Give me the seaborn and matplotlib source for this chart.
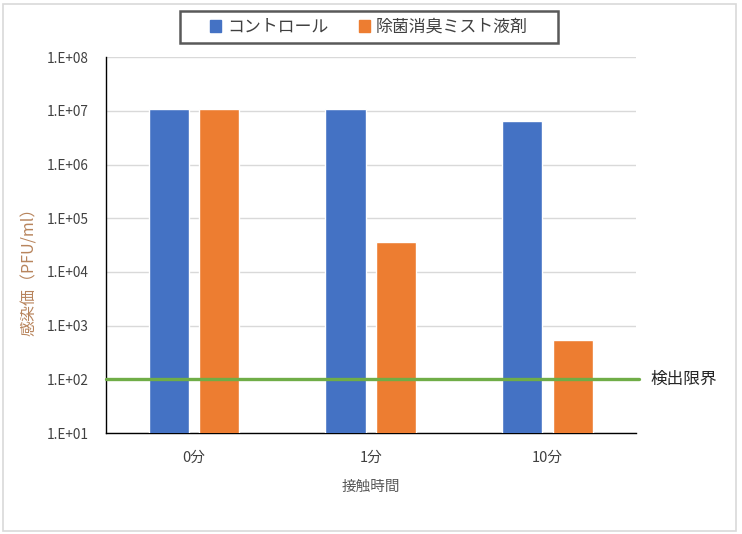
import matplotlib
matplotlib.use("Agg")
import matplotlib.pyplot as plt
import seaborn as sns
import pandas as pd
from matplotlib.patches import Rectangle
from matplotlib.ticker import FixedLocator, FixedFormatter, NullLocator

categories = ["0分", "1分", "10分"]
series_names = ["コントロール", "除菌消臭ミスト液剤"]
control_values = [1.07e7, 1.07e7, 6.4e6]
mist_values = [1.07e7, 3.6e4, 5.4e2]
detection_limit = 100
limit_label = "検出限界"
ytick_values = [1e1, 1e2, 1e3, 1e4, 1e5, 1e6, 1e7, 1e8]
ytick_labels = ["1.E+01", "1.E+02", "1.E+03", "1.E+04", "1.E+05", "1.E+06", "1.E+07", "1.E+08"]

sns.set_theme(style="white")
plt.rcParams["font.family"] = ["Noto Sans CJK JP", "DejaVu Sans"]

df = pd.DataFrame({
    "cat": categories * 2,
    "series": [series_names[0]] * 3 + [series_names[1]] * 3,
    "value": control_values + mist_values,
})

fig = plt.figure(figsize=(7.42, 5.34), dpi=100)
ax = fig.add_axes([0.1425, 0.189, 0.7145, 0.704])

palette = {series_names[0]: "#4472C4", series_names[1]: "#ED7D31"}
ax.set_yscale("log")
sns.barplot(data=df, x="cat", y="value", hue="series", hue_order=series_names,
            order=categories, palette=palette, width=0.57, gap=0.2, ax=ax,
            legend=False, saturation=1, errorbar=None, zorder=3)

ax.set_ylim(1e1, 1e8)
ax.set_xlim(-0.5, 2.5)
ax.yaxis.set_major_locator(FixedLocator(ytick_values))
ax.yaxis.set_major_formatter(FixedFormatter(ytick_labels))
ax.yaxis.set_minor_locator(NullLocator())
ax.grid(axis="y", color="#D9D9D9", linewidth=1, zorder=0)
ax.set_axisbelow(True)
for s in ["top", "right"]:
    ax.spines[s].set_visible(False)
for s in ["left", "bottom"]:
    ax.spines[s].set_color("#000000")
    ax.spines[s].set_linewidth(1)
ax.tick_params(axis="both", length=0, colors="#404040", labelsize=9.8)
ax.tick_params(axis="x", pad=13, labelsize=10.5)
ax.tick_params(axis="y", pad=12)

ax.plot([-0.5, 2.52], [detection_limit, detection_limit], color="#70AD47",
        linewidth=2.4, clip_on=False, zorder=5)
ax.text(2.585, detection_limit, limit_label, va="center", ha="left",
        fontsize=12, color="#262626")

ax.set_xlabel("接触時間", color="#595959", fontsize=10.5, labelpad=11)
ax.set_ylabel("感染価（PFU/ml）", color="#B8845C", fontsize=11.5)
ax.yaxis.set_label_coords(-0.127, 0.44)

handles = [Rectangle((0, 0), 1, 1, color=palette[n]) for n in series_names]
leg = fig.legend(handles, series_names, loc="center", bbox_to_anchor=(0.4973, 0.9494),
                 ncol=2, frameon=False, fontsize=12.2, handlelength=0.65, handleheight=0.65,
                 handletextpad=0.35, columnspacing=1.8, borderpad=0.3)
for t in leg.get_texts():
    t.set_color("#404040")

fig.patches.append(Rectangle((180 / 742, 1 - 43 / 534), 378 / 742, 32 / 534,
                             transform=fig.transFigure, fill=False,
                             edgecolor="#595959", linewidth=1.8))
fig.patches.append(Rectangle((0.004, 0.006), 0.988, 0.986, transform=fig.transFigure,
                             fill=False, edgecolor="#D9D9D9", linewidth=1.2))

fig.savefig("out.png", dpi=100)
